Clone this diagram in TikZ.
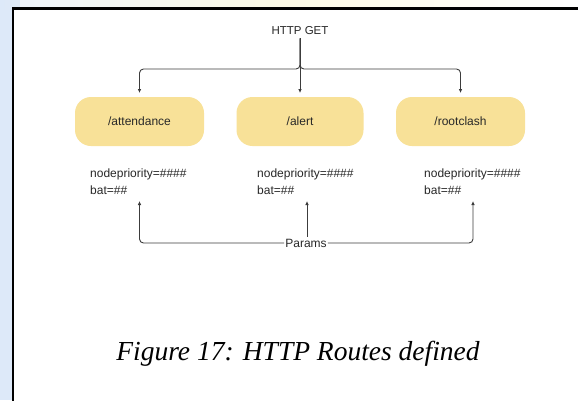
\documentclass[tikz,border=0pt]{standalone}
\usepackage{fontspec}
\setmainfont{Liberation Sans}
\newfontfamily\capfont{Liberation Serif}
\usetikzlibrary{arrows.meta}
\definecolor{bgblue}{RGB}{221,233,249}
\definecolor{paleyellow}{RGB}{250,246,205}
\definecolor{routefill}{RGB}{248,225,152}
\definecolor{ink}{RGB}{40,40,40}
\definecolor{wire}{RGB}{60,60,60}
\tikzset{
  route/.style={fill=routefill, draw=none, rounded corners=16bp, minimum width=129bp, minimum height=49bp, inner sep=0pt, text=ink, font=\fontsize{12bp}{14bp}\selectfont},
  label/.style={text=ink, inner sep=0pt, font=\fontsize{12bp}{14bp}\selectfont},
  params/.style={text=ink, inner sep=0pt, align=left, anchor=north west, font=\fontsize{12bp}{17bp}\selectfont},
  wireline/.style={draw=wire, line width=0.9bp, rounded corners=4bp},
  tip/.style={-{Latex[length=4bp,width=3.6bp]}}
}
\begin{document}
\begin{tikzpicture}[x=1bp,y=-1bp]
\useasboundingbox (0,0) rectangle (578,400);
\clip (0,0) rectangle (578,400);
% background
\fill[bgblue] (0,0) rectangle (578,400);
\shade[left color=bgblue, right color=white, middle color=paleyellow] (0,0) rectangle (578,9);
\fill[white, opacity=0.5] (20,0) rectangle (578,9);
% white page with border
\draw[line width=2.5bp, fill=white] (13,8.7) rectangle (600,420);

% nodes
\node[label, font=\fontsize{11.5bp}{14bp}\selectfont] (get) at (300,31) {HTTP GET};
\node[route] (att) at (139.5,121.5) {/attendance};
\node[route, minimum width=127bp] (alr) at (300,121.5) {/alert};
\node[route] (rc) at (460.5,121.5) {/rootclash};

\node[params] (p1) at (90,168.5) {nodepriority=\#\#\#\#\\bat=\#\#};
\node[params] (p2) at (257,168.5) {nodepriority=\#\#\#\#\\bat=\#\#};
\node[params] (p3) at (424,168.5) {nodepriority=\#\#\#\#\\bat=\#\#};

\node[label, fill=white, inner xsep=1bp] (par) at (306,243) {Params};

% coordinates
\coordinate (hub) at (300,69);
\coordinate (t1) at (139.5,93);
\coordinate (t2) at (300,93);
\coordinate (t3) at (460.5,93);
\coordinate (b1) at (139.5,201);
\coordinate (b2) at (307,201);
\coordinate (b3) at (473,201);

% top connectors
\draw[wireline, tip] (get.south) ++(0,3) -- (hub) -| (t1);
\draw[wireline, tip] (get.south) ++(0,3) -- (hub) -| (t3);
\draw[wireline, tip] (get.south) ++(0,3) -- (t2);

% bottom connectors
\draw[wireline, tip] (par.west) -| (b1);
\draw[wireline, tip] (par.east) -| (b3);
\draw[wireline, tip] (par.north -| b2) ++(0,-2) -- (b2);

% caption
\node[inner sep=0pt, anchor=base, font=\capfont\itshape\fontsize{27.5bp}{30bp}\selectfont] (cap) at (298,360) {Figure 17: HTTP Routes defined};
\end{tikzpicture}
\end{document}
